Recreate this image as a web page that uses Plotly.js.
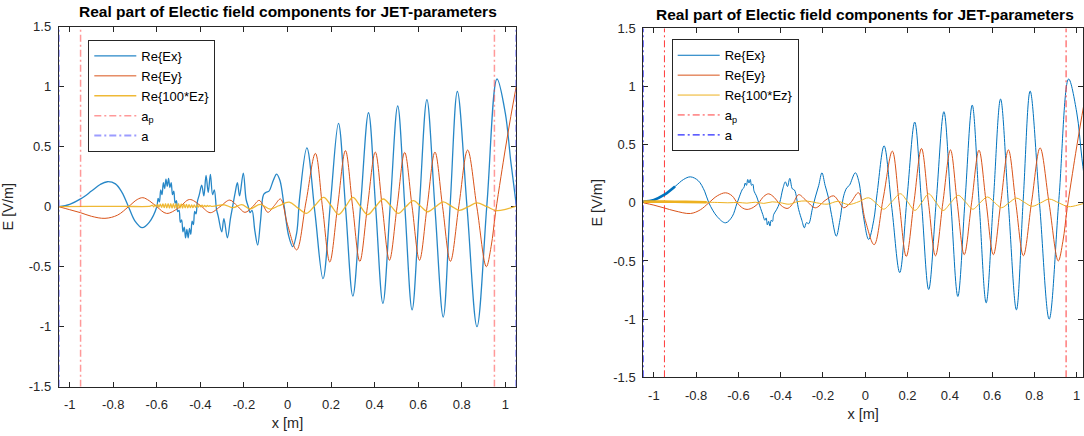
<!DOCTYPE html>
<html>
<head>
<meta charset="utf-8">
<script src="https://cdn.plot.ly/plotly-3.0.1.min.js"></script>
<style>
  html, body { margin: 0; padding: 0; background: #fff; }
  #chart { width: 1084px; height: 436px; }
</style>
</head>
<body>
<div id="chart"></div>
<script>
// ---------------- data ----------------
// Left panel, region x < 0.06
const exLeftX = [-1.05,-1.0,-0.95,-0.9,-0.86,-0.827,-0.79,-0.76,-0.73,-0.70,-0.667,-0.635,-0.60,
  -0.594,-0.588,-0.582,-0.576,-0.570,-0.564,-0.558,-0.552,-0.546,-0.540,-0.534,-0.528,-0.522,-0.516,-0.510,
  -0.504,-0.498,-0.492,-0.486,-0.480,-0.474,-0.468,-0.462,-0.456,-0.450,-0.444,-0.438,-0.432,-0.426,-0.420,
  -0.414,-0.405,-0.394,-0.384,-0.374,-0.364,-0.354,-0.344,-0.336,-0.326,-0.318,-0.302,-0.292,-0.276,-0.262,
  -0.252,-0.240,-0.230,-0.220,-0.203,-0.190,-0.180,-0.172,-0.163,-0.150,-0.137,-0.124,-0.110,-0.098,-0.085,
  -0.065,-0.050,-0.035,-0.015,0.005,0.024,0.042];
const exLeftY = [0,0.02,0.065,0.13,0.185,0.208,0.19,0.12,0.0,-0.12,-0.175,-0.13,0.0,
  0.07,0.04,0.14,0.10,0.20,0.15,0.23,0.17,0.235,0.16,0.20,0.10,0.13,0.03,0.05,
  -0.04,-0.03,-0.13,-0.11,-0.21,-0.17,-0.26,-0.19,-0.26,-0.18,-0.23,-0.12,-0.15,-0.04,-0.06,
  0.04,0.10,0.18,0.09,0.26,0.12,0.27,0.10,0.14,-0.02,-0.08,-0.21,-0.10,-0.26,-0.10,
  0.0,0.12,0.20,0.09,0.28,0.06,0.0,-0.05,-0.03,-0.20,-0.32,-0.12,0.10,0.12,0.13,
  0.22,0.272,0.22,0.0,-0.24,-0.333,-0.22];

const eyLeftX = [-1.05,-1.0,-0.95,-0.9,-0.838,-0.78,-0.73,-0.69,-0.664,-0.635,-0.60,-0.555,-0.50,-0.45,-0.40,
  -0.355,-0.31,-0.265,-0.23,-0.195,-0.16,-0.13,-0.11,-0.09,-0.06,-0.032,0.0];
const eyLeftY = [0,-0.025,-0.05,-0.08,-0.097,-0.07,0.0,0.06,0.075,0.05,0.0,-0.056,-0.01,0.06,0.01,
  -0.05,0.0,0.055,0.005,-0.047,0.0,0.053,0.005,-0.047,0.01,0.064,-0.15];

const ezLeftX = [-1.05,-0.9,-0.75,-0.63,
  -0.620,-0.614,-0.608,-0.602,-0.596,-0.590,-0.584,-0.578,-0.572,-0.566,-0.560,-0.554,-0.548,-0.542,
  -0.536,-0.530,-0.524,-0.518,-0.512,-0.506,-0.500,-0.494,-0.488,-0.482,-0.476,-0.470,-0.464,-0.458,
  -0.452,-0.446,-0.440,-0.434,-0.428,-0.422,-0.416,-0.410,-0.404,-0.398,-0.392,-0.386,-0.380,-0.374,
  -0.368,-0.362,-0.356,-0.350,
  -0.33,-0.29,-0.25,-0.21,-0.172,-0.125,-0.08,-0.04,0.008,0.047];
const ezLeftY = [0,0.003,0.003,0.004,
  0.012,-0.002,0.016,-0.002,0.02,-0.004,0.022,-0.006,0.024,-0.008,0.026,-0.01,0.026,-0.012,
  0.026,-0.012,0.026,-0.012,0.026,-0.012,0.025,-0.012,0.024,-0.012,0.022,-0.01,0.02,-0.01,
  0.018,-0.008,0.016,-0.008,0.015,-0.006,0.014,-0.004,0.013,-0.002,0.012,0.0,0.011,0.0,
  0.01,0.002,0.009,0.003,
  0.006,0.016,-0.008,0.018,-0.018,0.02,-0.02,0.008,0.038,-0.01];

// Right panel, region x < 0.06
const exRightX = [-1.05,-1.0,-0.95,-0.9,-0.86,-0.827,-0.79,-0.76,-0.74,-0.70,-0.661,-0.63,-0.606,
  -0.580,-0.574,-0.568,-0.562,-0.556,-0.550,-0.544,-0.538,-0.532,-0.526,-0.515,-0.504,-0.485,
  -0.475,-0.469,-0.463,-0.457,-0.451,-0.445,-0.439,-0.433,-0.42,-0.405,
  -0.39,-0.378,-0.368,-0.357,-0.345,-0.335,-0.315,-0.30,-0.288,-0.278,-0.268,-0.25,-0.236,-0.22,-0.205,
  -0.19,-0.175,-0.16,-0.137,-0.12,-0.102,-0.087,-0.075,-0.047,-0.03,-0.01,0.016,0.04];
const exRightY = [0.01,0.025,0.07,0.14,0.2,0.223,0.19,0.1,0.0,-0.12,-0.172,-0.12,0.0,
  0.12,0.13,0.17,0.15,0.20,0.17,0.20,0.15,0.16,0.10,0.06,0.0,-0.1,
  -0.15,-0.13,-0.19,-0.16,-0.20,-0.15,-0.16,-0.10,-0.06,0.0,
  0.12,0.18,0.14,0.21,0.12,0.11,-0.058,-0.15,-0.215,-0.17,-0.18,-0.05,0.05,0.15,0.258,
  0.15,0.05,-0.1,-0.287,-0.15,0.06,0.13,0.15,0.258,0.18,-0.1,-0.315,-0.15];

const eyRightX = [-1.05,-1.0,-0.95,-0.9,-0.827,-0.78,-0.74,-0.70,-0.661,-0.63,-0.606,-0.58,-0.559,-0.53,
  -0.504,-0.48,-0.457,-0.43,-0.41,-0.385,-0.365,-0.34,-0.315,-0.28,-0.236,-0.19,-0.15,-0.125,-0.102,
  -0.07,-0.032,0.0];
const eyRightY = [0,-0.02,-0.045,-0.07,-0.092,-0.06,0.0,0.06,0.086,0.06,0.0,-0.045,-0.057,-0.04,
  0.0,0.055,0.077,0.045,0.0,-0.04,-0.047,0.0,0.07,0.02,-0.043,0.02,0.06,0.01,-0.043,
  0.0,0.086,-0.15];

const ezRightX = [-1.05,-0.95,-0.85,-0.75,-0.7,-0.65,-0.6,-0.56,-0.52,-0.48,-0.44,-0.40,-0.36,-0.32,
  -0.28,-0.23,-0.181,-0.13,-0.079,-0.03,0.016,0.055];
const ezRightY = [0.01,0.01,0.008,0.005,0.003,0.0,0.003,-0.003,0.005,-0.005,0.008,0.0,-0.012,0.01,
  0.016,0.0,-0.012,0.012,-0.015,0.01,0.043,-0.01];

// Both panels, region x >= 0.06
const exMainX = [0.056,0.089,0.126,0.163,0.198,0.234,0.267,0.300,0.336,0.372,0.405,0.438,0.472,0.506,
  0.539,0.572,0.606,0.640,0.677,0.715,0.747,0.78,0.825,0.870,0.916,0.962,1.0,1.025,1.05];
const exMainY = [0.08,0.49,-0.05,-0.60,0.05,0.694,-0.02,-0.745,0.02,0.783,-0.01,-0.805,0.02,0.84,
  -0.01,-0.86,0.02,0.892,-0.01,-0.92,0.02,0.96,-0.02,-1.0,0.03,1.064,0.78,0.38,0.02];

const eyMainX = [0.042,0.085,0.128,0.161,0.194,0.23,0.266,0.299,0.332,0.367,0.403,0.435,0.468,0.503,
  0.538,0.572,0.606,0.641,0.677,0.712,0.748,0.787,0.827,0.87,0.913,0.935,0.955,0.98,1.0,1.025,1.05];
const eyMainY = [-0.36,0.04,0.444,-0.01,-0.461,0.0,0.467,0.0,-0.456,0.0,0.455,0.0,-0.446,0.0,
  0.452,0.0,-0.446,0.0,0.455,0.0,-0.455,0.01,0.472,-0.01,-0.5,-0.33,-0.05,0.25,0.48,0.75,1.0];

const ezMainX = [0.087,0.126,0.166,0.2,0.235,0.268,0.3,0.334,0.368,0.404,0.44,0.475,0.509,0.543,
  0.578,0.611,0.644,0.68,0.715,0.752,0.789,0.83,0.87,0.915,0.96,1.005,1.05];
const ezMainY = [-0.055,0.01,0.078,0.01,-0.065,0.005,0.077,0.005,-0.066,0.0,0.064,0.005,-0.055,0.0,
  0.05,0.004,-0.042,0.0,0.04,0.005,-0.03,0.0,0.032,0.0,-0.033,-0.02,0.005];

// Boundary positions
const apPos = [-0.95, 0.95];
const aPos = [-1.05, 1.05];

// Axes
const xTickVals = [-1,-0.8,-0.6,-0.4,-0.2,0,0.2,0.4,0.6,0.8,1];
const xTickText = ['-1','-0.8','-0.6','-0.4','-0.2','0','0.2','0.4','0.6','0.8','1'];
const yTickVals = [-1.5,-1,-0.5,0,0.5,1,1.5];
const yTickText = ['-1.5','-1','-0.5','0','0.5','1','1.5'];
const yRange = [-1.5, 1.5];

const seriesNames = ['Re{Ex}','Re{Ey}','Re{100*Ez}','a<sub>p</sub>','a'];
const titleText = 'Real part of Electic field components for JET-parameters';
const xTitle = 'x [m]';
const yTitle = 'E [V/m]';

// ---------------- build ----------------
const cat = (a, b) => a.concat(b);
function vlines(pos) {
  const xs = [], ys = [];
  pos.forEach((p, i) => {
    if (i) { xs.push(null); ys.push(null); }
    xs.push(p, p); ys.push(yRange[0], yRange[1]);
  });
  return {x: xs, y: ys};
}
function upTo(xs, ys, lim) {
  const ox = [], oy = [];
  xs.forEach((v, i) => { if (v <= lim) { ox.push(v); oy.push(ys[i]); } });
  return {x: ox, y: oy};
}

const C_EX = '#0072BD', C_EY = '#D95319', C_EZ = '#EDB120';
const FONT = 'Liberation Sans, Arial, Helvetica, sans-serif';
const DASHDOT = '7px,3px,2px,3px';
const SMOOTH = 1;

function panel(ax, leg, ex, ey, ez, styleL) {
  const xa = ax === 1 ? 'x' : 'x2', ya = ax === 1 ? 'y' : 'y2';
  const base = {type: 'scatter', mode: 'lines', xaxis: xa, yaxis: ya, legend: leg, hoverinfo: 'skip'};
  const ap = vlines(apPos), a = vlines(aPos);
  return [
    Object.assign({}, base, {name: seriesNames[0], x: ex.x, y: ex.y,
      line: {color: styleL ? 'rgba(0,114,189,0.85)' : C_EX, width: styleL ? 1.3 : 1, shape: 'spline', smoothing: SMOOTH}}),
    Object.assign({}, base, {name: seriesNames[1], x: ey.x, y: ey.y,
      line: {color: C_EY, width: 1, shape: 'spline', smoothing: SMOOTH}}),
    Object.assign({}, base, {name: seriesNames[2], x: ez.x, y: ez.y,
      line: {color: styleL ? 'rgba(237,177,32,0.9)' : C_EZ, width: styleL ? 1.3 : 1, shape: 'spline', smoothing: SMOOTH}}),
    Object.assign({}, base, {name: seriesNames[3], x: ap.x, y: ap.y,
      line: {color: styleL ? 'rgba(255,70,70,0.55)' : '#ff3b3b', width: styleL ? 1.5 : 1, dash: DASHDOT}}),
    Object.assign({}, base, {name: seriesNames[4], x: a.x, y: a.y,
      line: {color: styleL ? 'rgba(90,90,255,0.6)' : '#2a2aff', width: styleL ? 2 : 1.2, dash: DASHDOT}})
  ];
}

const exL = {x: cat(exLeftX, exMainX), y: cat(exLeftY, exMainY)};
const eyL = {x: cat(eyLeftX, eyMainX), y: cat(eyLeftY, eyMainY)};
const ezL = {x: cat(ezLeftX, ezMainX), y: cat(ezLeftY, ezMainY)};
const exR = {x: cat(exRightX, exMainX), y: cat(exRightY, exMainY)};
const eyR = {x: cat(eyRightX, eyMainX), y: cat(eyRightY, eyMainY)};
const ezR = {x: cat(ezRightX, ezMainX), y: cat(ezRightY, ezMainY)};

const traces = [].concat(panel(1, 'legend', exL, eyL, ezL, true), panel(2, 'legend2', exR, eyR, ezR, false));

// thicker look of the densely sampled start of the right-panel curves
const exThick = upTo(exR.x, exR.y, -0.88), ezThick = upTo(ezR.x, ezR.y, -0.75);
traces.push({type: 'scatter', mode: 'lines', xaxis: 'x2', yaxis: 'y2', showlegend: false, hoverinfo: 'skip',
  x: exThick.x, y: exThick.y, line: {color: C_EX, width: 2.6, shape: 'spline'}});
traces.push({type: 'scatter', mode: 'lines', xaxis: 'x2', yaxis: 'y2', showlegend: false, hoverinfo: 'skip',
  x: ezThick.x, y: ezThick.y, line: {color: C_EZ, width: 2.6, shape: 'spline'}});

const W = 1084, H = 436;
const titleFont = {family: FONT, size: 14.5, color: '#262626'};
const axCommon = {
  showgrid: false, zeroline: false, showline: true, linecolor: '#262626', linewidth: 1,
  mirror: 'ticks', ticks: 'inside', ticklen: 5, tickwidth: 1, tickcolor: '#262626',
  tickfont: {family: FONT, size: 13, color: '#262626'}, layer: 'below traces', fixedrange: true,
  automargin: false
};
const xaxisBase = Object.assign({}, axCommon, {tickmode: 'array', tickvals: xTickVals, ticktext: xTickText,
  ticklabelstandoff: 6, title: {text: xTitle, font: titleFont, standoff: 6}});
const yaxisBase = Object.assign({}, axCommon, {tickmode: 'array', tickvals: yTickVals, ticktext: yTickText, range: yRange,
  ticklabelstandoff: 4, title: {text: yTitle, font: titleFont, standoff: 9}});

const legendBase = {
  xref: 'paper', yref: 'paper', xanchor: 'left', yanchor: 'top',
  bgcolor: '#ffffff', bordercolor: '#262626', borderwidth: 1, itemwidth: 42,
  font: {family: FONT, size: 13, color: '#000000'}, tracegroupgap: 0
};

const layout = {
  width: W, height: H, autosize: false,
  margin: {l: 0, r: 0, t: 0, b: 0},
  paper_bgcolor: '#ffffff', plot_bgcolor: '#ffffff',
  showlegend: true,
  xaxis: Object.assign({}, xaxisBase, {domain: [58.8 / W, 516.2 / W], range: [-1.05, 1.05], anchor: 'y'}),
  yaxis: Object.assign({}, yaxisBase, {domain: [(H - 386.7) / H, (H - 26.7) / H], anchor: 'x', title: {text: yTitle, font: titleFont, standoff: 11}}),
  xaxis2: Object.assign({}, xaxisBase, {domain: [643.3 / W, 1083 / W], range: [-1.05, 1.03], anchor: 'y2'}),
  yaxis2: Object.assign({}, yaxisBase, {domain: [(H - 377.3) / H, (H - 28.3) / H], anchor: 'x2', title: {text: yTitle, font: titleFont, standoff: 7}}),
  legend: Object.assign({}, legendBase, {x: 88.3 / W, y: (H - 40) / H}),
  legend2: Object.assign({}, legendBase, {x: 671.7 / W, y: (H - 39.3) / H}),
  annotations: [
    {text: '<b>' + titleText + '</b>', xref: 'paper', yref: 'paper', x: 287.5 / W, y: (H - 12) / H,
     xanchor: 'center', yanchor: 'middle', showarrow: false, font: {family: FONT, size: 15.5, color: '#000'}},
    {text: '<b>' + titleText + '</b>', xref: 'paper', yref: 'paper', x: 865 / W, y: (H - 15) / H,
     xanchor: 'center', yanchor: 'middle', showarrow: false, font: {family: FONT, size: 15.5, color: '#000'}}
  ]
};

Plotly.newPlot('chart', traces, layout, {staticPlot: true, displayModeBar: false});
</script>
</body>
</html>
